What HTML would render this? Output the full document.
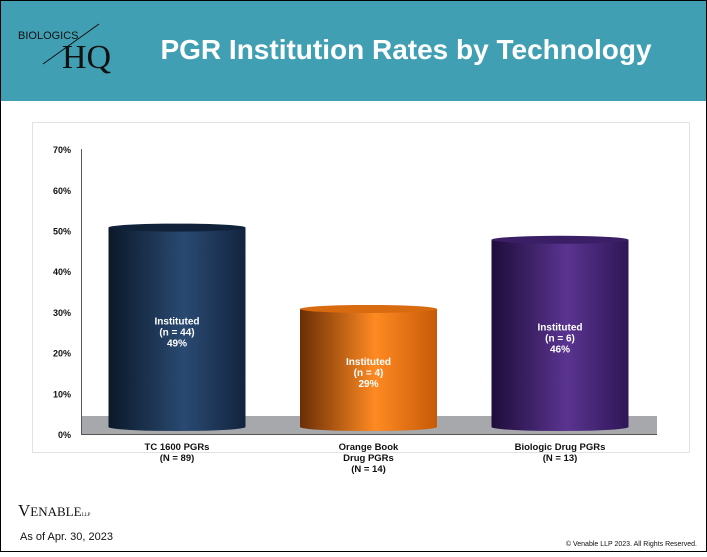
<!DOCTYPE html>
<html><head><meta charset="utf-8"><style>
body{margin:0;width:707px;height:552px;overflow:hidden;background:#fff;font-family:"Liberation Sans",Arial,sans-serif}
</style></head><body>
<svg width="707" height="552" viewBox="0 0 707 552" xmlns="http://www.w3.org/2000/svg">
<defs>
<linearGradient id="g0" x1="0" x2="1"><stop offset="0" stop-color="#0b1828"/><stop offset="0.55" stop-color="#2a4a72"/><stop offset="1" stop-color="#12243e"/></linearGradient>
<linearGradient id="g1" x1="0" x2="1"><stop offset="0" stop-color="#6a2e05"/><stop offset="0.55" stop-color="#ff8a22"/><stop offset="1" stop-color="#c75a08"/></linearGradient>
<linearGradient id="g2" x1="0" x2="1"><stop offset="0" stop-color="#1e0d3a"/><stop offset="0.55" stop-color="#5a3490"/><stop offset="1" stop-color="#2e1656"/></linearGradient>
</defs>
<rect x="0" y="0" width="707" height="101" fill="#419fb3"/>
<rect x="0.5" y="0.5" width="706" height="551" fill="none" stroke="#000"/>
<g>
<text x="18" y="39" font-size="11" fill="#111">BIOLOGICS</text>
<line x1="43" y1="64" x2="99" y2="24" stroke="#111" stroke-width="1"/>
<text x="62" y="68" font-family="Liberation Serif,serif" font-size="34" fill="#111">HQ</text>
</g>
<text x="406" y="59" text-anchor="middle" font-size="28" font-weight="bold" fill="#fff">PGR Institution Rates by Technology</text>
<rect x="32.5" y="122.5" width="657" height="330" fill="#fff" stroke="#e2e2e2"/>
<g id="chart"></g>
<text x="18" y="516" font-family="Liberation Serif,serif" font-size="17" fill="#111">V<tspan font-size="13">ENABLE</tspan><tspan font-size="5">LLP</tspan></text>
<text x="20" y="540" font-size="11" fill="#111">As of Apr. 30, 2023</text>
<text x="697" y="546" text-anchor="end" font-size="7" fill="#111">© Venable LLP 2023. All Rights Reserved.</text>
</svg>
<script>
const categories=[["TC 1600 PGRs","(N = 89)"],["Orange Book","Drug PGRs","(N = 14)"],["Biologic Drug PGRs","(N = 13)"]];
const values=[49,29,46];
const counts=[44,4,6];
const tickLabels=["0%","10%","20%","30%","40%","50%","60%","70%"];
const tickValues=[0,10,20,30,40,50,60,70];
const NS="http://www.w3.org/2000/svg";
const g=document.getElementById('chart');
function yAxis(v){return 434-v*4.07;}
function yBar(v){return 427-v*4.07;}
function xCenter(i){return 177+i*191.5;}
function mk(t,a,p){const e=document.createElementNS(NS,t);for(const k in a)e.setAttribute(k,a[k]);(p||g).appendChild(e);return e;}
tickValues.forEach((v,i)=>{const t=mk('text',{x:71,y:yAxis(v)+4,'text-anchor':'end','font-size':9,'font-weight':'bold',fill:'#111'});t.textContent=tickLabels[i];

});
const floor=mk('polygon',{points:"81,416 657,416 657,434 81,434",fill:'#a6a8ab'});


const ax=mk('line',{x1:81.5,y1:149,x2:81.5,y2:435,stroke:'#555','stroke-width':1});


const ax2=mk('line',{x1:81,y1:434.5,x2:657,y2:434.5,stroke:'#555','stroke-width':1});


const fills=['url(#g0)','url(#g1)','url(#g2)'];
const tops=['#10223a','#d86a10','#3a1f66'];
values.forEach((v,i)=>{const cx=xCenter(i),w=137,x0=cx-w/2,yt=yBar(v),yb=427,ry=4;
const grp=mk('g',{});


mk('path',{d:`M${x0},${yt} L${x0},${yb} A${w/2},${ry} 0 0 0 ${x0+w},${yb} L${x0+w},${yt} Z`,fill:fills[i]},grp);
mk('ellipse',{cx:cx,cy:yt,rx:w/2,ry:ry,fill:tops[i]},grp);
const mid=(yt+yb)/2;
['Instituted','(n = '+counts[i]+')',v+'%'].forEach((s,j)=>{const t=mk('text',{x:cx,y:mid-3+j*11,'text-anchor':'middle','font-size':10,'font-weight':'bold',fill:'#fff'},grp);t.textContent=s;

});
categories[i].forEach((s,j)=>{const t=mk('text',{x:cx,y:450+j*11,'text-anchor':'middle','font-size':9.5,'font-weight':'bold',fill:'#111'});t.textContent=s;

});
});
</script>
</body></html>
